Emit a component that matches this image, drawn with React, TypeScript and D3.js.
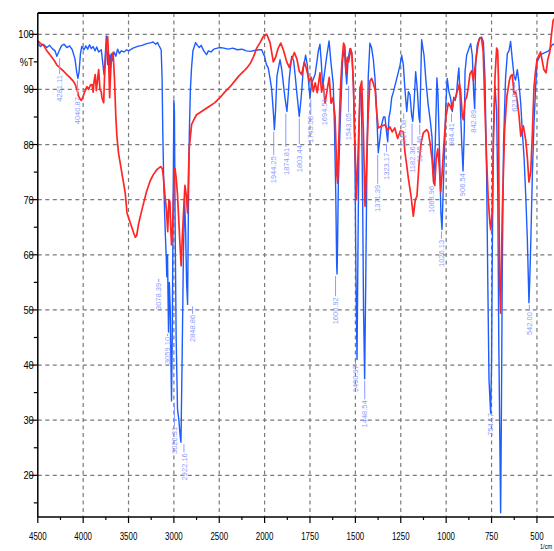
import React from "react";
import * as d3 from "d3";

const W = 554;
const H = 551;

const xTicks = [4500, 4000, 3500, 3000, 2500, 2000, 1750, 1500, 1250, 1000, 750, 500];
const xMinorTicks = [4250, 3750, 3250, 2750, 2250, 1875, 1625, 1375, 1125, 875, 625];
const xGrid = [4000, 3500, 3000, 2500, 2000, 1750, 1500, 1250, 1000, 750, 500];
const yMajor = [100, 90, 80, 70, 60, 50, 40, 30, 20];
const yMinor = [95, 85, 75, 65, 55, 45, 35, 25, 15];
const yLabels: [number, string][] = [
  [100, "100"], [95, "%T"], [90, "90"], [80, "80"], [70, "70"], [60, "60"],
  [50, "50"], [40, "40"], [30, "30"], [20, "20"],
];

// wavenumber (1/cm), %T
const blueSpectrum: [number, number][] = [
  [4500, 98.3], [4470, 97.8], [4440, 98.2], [4400, 97.6], [4370, 98.0], [4340, 97.4], [4310, 97.0],
  [4290, 96.0], [4270, 96.8], [4240, 97.9], [4210, 98.2], [4180, 97.6], [4150, 97.9], [4120, 97.2],
  [4090, 95.5], [4070, 93.0], [4058, 92.0], [4045, 93.2], [4030, 96.5], [4015, 97.8], [3990, 97.2],
  [3970, 97.9], [3950, 97.3], [3930, 98.1], [3910, 97.4], [3890, 97.8], [3870, 97.0], [3850, 97.7],
  [3830, 96.8], [3800, 97.2], [3782, 94.5], [3770, 92.7], [3760, 95.0], [3745, 99.7], [3738, 97.0],
  [3730, 94.5], [3722, 96.8], [3714, 93.5], [3706, 96.2], [3698, 94.0], [3690, 96.5], [3680, 95.2],
  [3660, 96.8], [3640, 96.0], [3620, 97.3], [3600, 96.5], [3580, 97.0], [3550, 96.8], [3520, 97.2],
  [3500, 97.0], [3450, 97.5], [3400, 97.8], [3350, 98.0], [3300, 98.3], [3250, 98.5], [3230, 98.6],
  [3200, 98.2], [3180, 98.5], [3160, 97.8], [3140, 97.2], [3130, 92], [3122, 82], [3110, 72],
  [3095, 64], [3085, 60], [3078, 56], [3070, 60], [3064, 52], [3059, 46], [3050, 55], [3040, 50],
  [3032, 40], [3026, 33.5], [3018, 45], [3008, 70], [3000, 88], [2994, 86], [2986, 65], [2975, 45],
  [2960, 32], [2945, 30], [2930, 27], [2922, 26], [2910, 40], [2895, 60], [2882, 70], [2870, 64],
  [2860, 55], [2849, 51], [2840, 68], [2830, 82], [2818, 90], [2805, 94], [2790, 97], [2760, 98.5],
  [2740, 98], [2720, 97.6], [2700, 98], [2670, 97], [2640, 96.3], [2620, 97], [2590, 96.8],
  [2560, 97.3], [2520, 97.5], [2490, 97.6], [2450, 97.5], [2400, 97.3], [2350, 97.5], [2300, 97.2],
  [2250, 97.3], [2200, 97.0], [2155, 96.9], [2100, 97.1], [2060, 97.2], [2032, 97.2], [2015, 96.5],
  [2000, 96], [1990, 94.5], [1980, 93.9], [1970, 92], [1961, 90], [1952, 86], [1946, 82.7],
  [1940, 86], [1932, 92.4], [1915, 95.4], [1905, 93.5], [1895, 90.5], [1888, 88.5], [1877, 86],
  [1870, 89], [1864, 92], [1851, 96], [1840, 95.2], [1830, 92], [1823, 89.5], [1809, 85.1],
  [1800, 88], [1795, 90], [1787, 93.8], [1774, 96.2], [1765, 94.5], [1757, 91], [1750, 88.5],
  [1742, 91], [1722, 92.7], [1712, 95], [1704, 97], [1695, 98.2], [1688, 95], [1680, 90.5],
  [1670, 93], [1658, 96], [1645, 98.8], [1635, 95], [1622, 91], [1615, 83], [1608, 71],
  [1603, 58], [1601, 56.5], [1598, 62], [1594, 72.7], [1583, 84.5], [1570, 95.5], [1561, 97.4],
  [1548, 91], [1540, 95.5], [1530, 97.4], [1520, 96.8], [1511, 91], [1502, 76.7], [1497, 56.6],
  [1491, 41], [1486, 60], [1480, 82], [1474, 90.3], [1467, 89], [1460, 70], [1455, 50],
  [1449, 37.5], [1443, 55], [1436, 78], [1429, 92.4], [1420, 98.4], [1411, 97.6], [1401, 95.4],
  [1392, 92], [1383, 86], [1374, 78.5], [1365, 81], [1356, 83.5], [1345, 85], [1337, 85],
  [1330, 82.8], [1322, 80.5], [1315, 85], [1308, 86], [1300, 88.5], [1290, 89.6], [1272, 92],
  [1254, 94.4], [1245, 96.2], [1236, 94.5], [1227, 90], [1217, 86], [1208, 89.6], [1199, 89],
  [1190, 85.3], [1184, 84.2], [1176, 88], [1168, 93.2], [1159, 90], [1150, 85], [1145, 84],
  [1140, 92], [1135, 99], [1128, 97.4], [1122, 96.2], [1111, 91.4], [1099, 87.2], [1087, 84.2],
  [1078, 81.3], [1069, 73], [1060, 80], [1051, 92.1], [1045, 89], [1036, 78], [1029, 67.6],
  [1023, 64.6], [1016, 72], [1008, 80], [1002, 87.2], [994, 92], [985, 89.6], [976, 88.5],
  [966, 86], [958, 88.6], [950, 88], [942, 89.6], [936, 92.1], [930, 93.9], [925, 90], [914, 80],
  [907, 75.2], [900, 82.7], [896, 93.3], [887, 96.2], [875, 97.4], [865, 98.3], [856, 96.2],
  [848, 89], [843, 86.5], [837, 95], [829, 98], [818, 99.2], [805, 99.5], [795, 98.6], [786, 92],
  [777, 74], [771, 56], [764, 37.3], [755, 31.3], [750, 40], [746, 60], [740, 82], [731, 90.6],
  [722, 86], [716, 72], [710, 43.5], [704, 25.3], [700, 13.2], [696, 30], [691, 56.5], [684, 80],
  [673, 92], [663, 96.5], [654, 97], [645, 98.7], [636, 95.5], [626, 92.4], [618, 91.7],
  [608, 93.6], [600, 91.5], [589, 87.3], [580, 82], [571, 77.7], [562, 71], [553, 63], [544, 51.3],
  [540, 55], [534, 62], [525, 75], [516, 84], [507, 90.5], [499, 95], [480, 96.3], [462, 96.6],
  [435, 97], [416, 98.1], [400, 98.3],
];

const redSpectrum: [number, number][] = [
  [4500, 98.8], [4470, 98.3], [4435, 98], [4400, 97], [4362, 96.2], [4320, 95.3], [4289, 94.4],
  [4250, 93.8], [4215, 93.3], [4180, 92.7], [4142, 92.1], [4110, 91.5], [4087, 90.9], [4065, 89.8],
  [4050, 88.8], [4035, 88.3], [4021, 88], [4005, 88.5], [3985, 89.5], [3958, 90.5], [3940, 90.0],
  [3920, 90.8], [3903, 90.9], [3890, 89.5], [3880, 91.5], [3867, 92.7], [3855, 89.8], [3840, 92.0],
  [3829, 93.6], [3815, 90], [3800, 89.5], [3793, 88.5], [3774, 87.6], [3765, 92], [3756, 95],
  [3745, 98], [3730, 99.6], [3720, 96], [3708, 88.5], [3700, 92], [3690, 95.5], [3670, 96.7],
  [3655, 92], [3640, 85], [3628, 81.5], [3610, 78.4], [3591, 76.6], [3570, 74.5], [3554, 73],
  [3535, 71], [3517, 67.6], [3481, 65.8], [3444, 64], [3425, 63.2], [3410, 63.5], [3390, 65.5],
  [3374, 66.7], [3338, 69.1], [3301, 71.5], [3264, 73.3], [3228, 74.5], [3191, 75.4], [3146, 76],
  [3125, 75.5], [3110, 73], [3099, 70.9], [3081, 67.9], [3068, 64.2], [3055, 70], [3044, 69.7],
  [3035, 65], [3026, 61.8], [3015, 65], [3007, 68.5], [2995, 75], [2988, 75.7], [2975, 74],
  [2960, 70.9], [2945, 66], [2933, 62], [2920, 58], [2910, 62], [2896, 67], [2878, 72.6],
  [2865, 71], [2849, 67.6], [2840, 74], [2831, 79.3], [2805, 83.6], [2780, 84.5], [2750, 85.4],
  [2695, 86], [2650, 86.5], [2603, 87], [2548, 87.6], [2493, 88.5], [2440, 89.5], [2380, 90.5],
  [2330, 91.5], [2280, 92.5], [2230, 93.3], [2190, 94], [2155, 94.8], [2120, 96], [2087, 97.5],
  [2050, 98.5], [2014, 99.6], [1988, 100], [1970, 98.5], [1952, 95], [1940, 95.8], [1925, 97.5],
  [1911, 98.4], [1897, 97.2], [1878, 95], [1864, 94], [1850, 95.5], [1836, 96.7], [1822, 95.5],
  [1809, 93.3], [1796, 92.7], [1781, 95], [1768, 93.5], [1754, 91.5], [1743, 92.2], [1732, 89.6],
  [1721, 91.2], [1710, 89.4], [1695, 93], [1686, 89.5], [1677, 91], [1667, 87.5], [1655, 90],
  [1644, 92.2], [1634, 87.5], [1624, 88.5], [1612, 85.1], [1606, 79], [1603, 74.8], [1598, 73],
  [1592, 80], [1583, 89.6], [1574, 95], [1565, 98.4], [1558, 97.8], [1552, 93], [1544, 95.8],
  [1537, 95], [1526, 97.4], [1518, 96], [1511, 91], [1502, 79.5], [1494, 70], [1484, 79.5],
  [1474, 90.3], [1465, 91.5], [1456, 82.5], [1447, 68.8], [1438, 76.7], [1429, 85.7], [1420, 91.5],
  [1411, 92], [1400, 91], [1390, 89.6], [1383, 86], [1374, 83], [1356, 83.3], [1337, 83.6],
  [1322, 82.6], [1310, 83.2], [1297, 82.3], [1283, 83], [1267, 81.1], [1252, 82.5], [1236, 82.3],
  [1227, 78.6], [1217, 76.2], [1208, 73.8], [1194, 70.8], [1181, 67], [1170, 70], [1161, 70.6],
  [1149, 76.7], [1138, 80.3], [1126, 82.1], [1107, 82.7], [1098, 82.2], [1089, 80.3], [1078, 77.4],
  [1069, 73.2], [1063, 72.6], [1055, 77.4], [1046, 79.2], [1037, 75.6], [1030, 71.4], [1022, 75],
  [1012, 80.3], [1001, 85.1], [988, 87.5], [978, 87], [969, 86.3], [960, 88], [947, 88.6],
  [938, 89.8], [927, 91], [920, 89.5], [911, 85.1], [905, 84.5], [896, 88], [887, 88.6],
  [878, 90.4], [869, 92.8], [859, 93.4], [850, 91.6], [841, 94], [832, 96.4], [823, 98.4],
  [814, 99.4], [805, 99.2], [796, 96.8], [786, 86], [777, 77.1], [768, 69.9], [759, 65.7],
  [754, 64.5], [746, 68.1], [740, 80.1], [731, 92.2], [722, 97.5], [716, 97], [712, 92],
  [710, 74], [706, 55.4], [700, 49.4], [691, 67.6], [678, 82.7], [666, 88.6], [652, 91.6],
  [645, 92.4], [636, 92.7], [626, 89.2], [617, 89.5], [608, 87.8], [598, 85], [589, 81.5],
  [575, 83.4], [562, 80.8], [553, 77.7], [544, 73.2], [534, 75.1], [525, 82.2], [516, 90.5],
  [507, 93.6], [499, 95.5], [480, 96.8], [462, 93.6], [450, 93], [440, 95.5], [429, 96.8],
  [420, 100], [411, 102.5], [400, 103],
];

// label text, peak %T (dip), %T where the label top sits, horizontal nudge
const peakLabels: [string, number, number, number][] = [
  ["4281.11", 96, 92.6, 2], ["4040.87", 92, 88.6, -2], ["3078.39", 56, 54.9, -8],
  ["3059.10", 46, 45.1, -1], ["3026.31", 33.5, 28.8, 3], ["2922.16", 26, 24.0, 3],
  ["2848.86", 51, 49.1, 5], ["1944.25", 82.7, 77.9, -1], ["1874.81", 86, 79.4, -1.5],
  ["1803.44", 85.1, 79.9, -1], ["1745.58", 88.5, 85.2, 0], ["1694.51", 90.5, 88.4, 4],
  ["1600.92", 56.5, 52.3, -1.5], ["1543.05", 91, 85.7, 1], ["1490.97", 41, 40.0, -1.5],
  ["1448.54", 37.5, 33.6, 0], ["1371.39", 78.5, 72.7, -1], ["1323.17", 80.5, 78.5, -1],
  ["1217.08", 86, 84.5, -3], ["1182.36", 84.2, 79.7, -1], ["1145.46", 84, 81.6, 0],
  ["1068.96", 73, 72.5, -2], ["1026.13", 64.6, 62.7, 0], ["984.41", 86, 83.9, 2.5],
  ["906.54", 75.2, 74.8, -1], ["842.89", 86.5, 86.3, -1], ["754.17", 31.3, 31.3, 0],
  ["623.01", 91.7, 90.1, 0], ["542.00", 51.3, 49.6, 0],
];

const LEFT = 37.8;
const TOP = 13;
const BOTTOM = 517;

export default function App() {
  const x = d3.scaleLinear().domain([4500, 2000, 400]).range([LEFT, 264.6, 555.1]);
  const y = d3.scaleLinear().domain([100, 20]).range([34.3, 475.3]);
  const line = d3
    .line<[number, number]>()
    .x((d) => x(d[0]))
    .y((d) => y(d[1]));

  const font = "'Liberation Sans', Arial, sans-serif";

  return (
    <svg
      width={W}
      height={H}
      style={{ position: "absolute", left: 0, top: 0, background: "#fff" }}
      fontFamily={font}
    >
      <defs>
        <clipPath id="plot">
          <rect x={LEFT} y={TOP} width={W - LEFT} height={BOTTOM - TOP} />
        </clipPath>
      </defs>
      <rect x={0} y={0} width={W} height={H} fill="#fff" />

      {/* grid */}
      <g stroke="#7a7a7a" strokeWidth={1.2} strokeDasharray="4,3.5">
        {yMajor.map((v) => (
          <line key={"gy" + v} x1={LEFT} x2={W} y1={y(v)} y2={y(v)} />
        ))}
        {xGrid.map((w) => (
          <line key={"gx" + w} x1={x(w)} x2={x(w)} y1={TOP} y2={BOTTOM} />
        ))}
      </g>

      {/* spectra */}
      <g clipPath="url(#plot)" fill="none" strokeLinejoin="round">
        <path d={line(blueSpectrum) || ""} stroke="#1d5cff" strokeWidth={1.4} />
        <path d={line(redSpectrum) || ""} stroke="#ff2626" strokeWidth={1.7} />
      </g>

      {/* peak labels */}
      <g fill="#8c9cff" stroke="none" fontSize={7.5}>
        {peakLabels.map(([t, pv, lv, dx]) => {
          const px = x(parseFloat(t)) + dx;
          const y0 = y(pv) + 2;
          const y1 = y(lv) - 1;
          return (
            <g key={t}>
              {y1 > y0 + 1 && (
                <line x1={px} x2={px} y1={y0} y2={y1} stroke="#8c9cff" strokeWidth={1} />
              )}
              <text
                transform={`translate(${px + 2.7},${y(lv)}) rotate(-90)`}
                textAnchor="end"
              >
                {t}
              </text>
            </g>
          );
        })}
      </g>

      {/* frame */}
      <g stroke="#000" fill="none">
        <line x1={LEFT} x2={W} y1={TOP} y2={TOP} strokeWidth={1.8} />
        <line x1={LEFT} x2={LEFT} y1={TOP} y2={BOTTOM} strokeWidth={1.5} />
        <line x1={LEFT} x2={W} y1={BOTTOM} y2={BOTTOM} strokeWidth={1.5} />
      </g>

      {/* y ticks */}
      <g stroke="#000" strokeWidth={1.2}>
        {yMajor.map((v) => (
          <line key={"ty" + v} x1={LEFT - 8} x2={LEFT} y1={y(v)} y2={y(v)} />
        ))}
        {yMinor.map((v) => (
          <line key={"tym" + v} x1={LEFT - 4} x2={LEFT} y1={y(v)} y2={y(v)} />
        ))}
      </g>
      <g fontSize={11} fill="#000">
        {yLabels.map(([v, t]) => (
          <text
            key={"yl" + v}
            transform={`translate(${LEFT - 4},${y(v) + 4}) scale(0.85,1)`}
            textAnchor="end"
          >
            {t}
          </text>
        ))}
      </g>

      {/* x ticks */}
      <g stroke="#000" strokeWidth={1.2}>
        {xTicks.map((w) => (
          <line key={"tx" + w} x1={x(w)} x2={x(w)} y1={BOTTOM} y2={BOTTOM + 6} />
        ))}
        {xMinorTicks.map((w) => (
          <line key={"txm" + w} x1={x(w)} x2={x(w)} y1={BOTTOM} y2={BOTTOM + 3} />
        ))}
      </g>
      <g fontSize={11} fill="#000">
        {xTicks.map((w) => (
          <text
            key={"xl" + w}
            transform={`translate(${x(w)},${540}) scale(0.72,1)`}
            textAnchor="middle"
          >
            {w}
          </text>
        ))}
        <text transform={`translate(${540},${549}) scale(0.8,1)`} fontSize={7}>
          1/cm
        </text>
      </g>
    </svg>
  );
}
